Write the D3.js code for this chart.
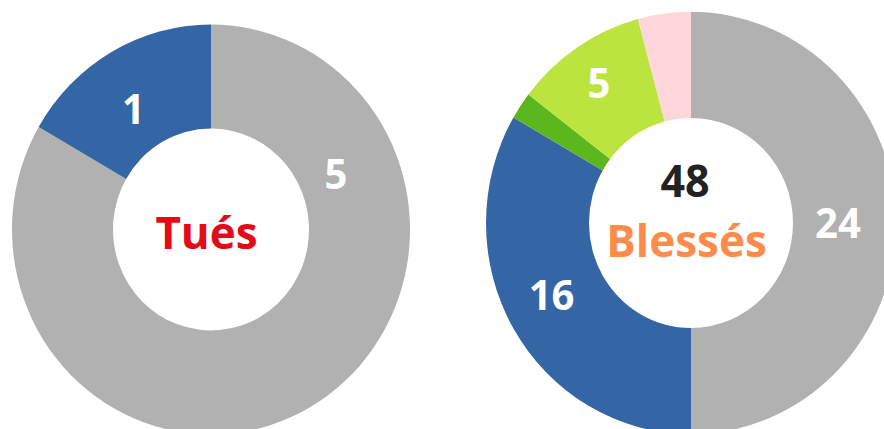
<!DOCTYPE html>
<html>
<head>
<meta charset="utf-8">
<script src="https://cdn.jsdelivr.net/npm/d3@7"></script>
<style>
  html, body { margin: 0; padding: 0; background: #ffffff; }
  svg { display: block; }
  text { font-family: "Open Sans", "Noto Sans", sans-serif; font-weight: 700; }
</style>
</head>
<body>
<svg id="chart" width="884" height="429"></svg>
<script>
// ---- Data ----
const tuesCategories = ["Autres", "Catégorie A"];
const tuesValues = [5, 1];
const tuesColors = ["#b1b1b1", "#3465a4"];
const tuesTitle = "Tués";

const blessesCategories = ["Autres", "Catégorie A", "Catégorie B", "Catégorie C", "Catégorie D"];
const blessesValues = [24, 16, 1, 5, 2];
const blessesColors = ["#b1b1b1", "#3465a4", "#5cb71d", "#bbe43e", "#ffd6d9"];
const blessesTitle = "Blessés";

// label placement (angle in degrees clockwise from top, radius) – null = no label
const tuesLabelPlacement = [[66.7, 136], [326.3, 140]];
const blessesLabelPlacement = [null, [243.4, 156], null, [325.8, 164], [90, 147]];

const svg = d3.select("#chart");
const yStretch = 1.03;

function donut(cfg) {
  const g = svg.append("g")
    .attr("transform", `translate(${cfg.cx},${cfg.cy}) scale(1,${yStretch})`);
  const pie = d3.pie().sort(null).value(d => d.value);
  const arc = d3.arc().innerRadius(cfg.inner).outerRadius(cfg.outer);
  const data = cfg.values.map((v, i) => ({ name: cfg.categories[i], value: v, color: cfg.colors[i], label: cfg.labels[i] }));
  const arcs = pie(data);
  g.selectAll("path.slice").data(arcs).join("path")
    .attr("class", "slice")
    .attr("d", arc)
    .attr("fill", d => d.data.color);

  g.selectAll("text.val").data(arcs.filter(d => d.data.label)).join("text")
    .attr("class", "val")
    .attr("x", d => d.data.label[1] * Math.sin(d.data.label[0] * Math.PI / 180))
    .attr("y", d => -d.data.label[1] * Math.cos(d.data.label[0] * Math.PI / 180))
    .attr("dy", "0.36em")
    .attr("text-anchor", "middle")
    .attr("fill", "#ffffff")
    .attr("font-size", 40)
    .text(d => d.data.value);
  return g;
}

// Left: Tués
const gL = donut({
  cx: 211, cy: 229.5, outer: 199, inner: 98,
  values: tuesValues, categories: tuesCategories, colors: tuesColors,
  labels: tuesLabelPlacement
});
gL.append("text")
  .attr("x", -4.5).attr("y", 19)
  .attr("text-anchor", "middle")
  .attr("fill", "#e20b17")
  .attr("font-size", 44)
  .text(tuesTitle);

// Right: Blessés
// reorder placements to match data order (Autres, A, B, C, D)
const gR = donut({
  cx: 691, cy: 223, outer: 205, inner: 102,
  values: blessesValues, categories: blessesCategories, colors: blessesColors,
  labels: [blessesLabelPlacement[4], blessesLabelPlacement[1], blessesLabelPlacement[2], blessesLabelPlacement[3], blessesLabelPlacement[0]]
});
gR.append("text")
  .attr("x", -6).attr("y", -25)
  .attr("text-anchor", "middle")
  .attr("fill", "#222222")
  .attr("font-size", 43)
  .text(d3.sum(blessesValues));
gR.append("text")
  .attr("x", -4.5).attr("y", 33)
  .attr("text-anchor", "middle")
  .attr("fill", "#fd8c4c")
  .attr("font-size", 44)
  .text(blessesTitle);
</script>
</body>
</html>
